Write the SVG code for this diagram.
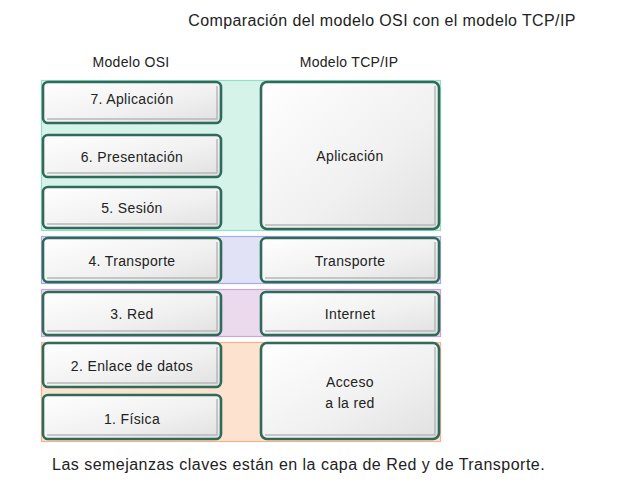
<svg xmlns="http://www.w3.org/2000/svg" width="621" height="497" viewBox="0 0 621 497">
<defs>
<linearGradient id="g" x1="0" y1="0" x2="1" y2="1">
<stop offset="0" stop-color="#ffffff"/>
<stop offset="0.6" stop-color="#f0f0f0"/>
<stop offset="1" stop-color="#e0e0e0"/>
</linearGradient>
<style>
text{font-family:"Liberation Sans",Arial,sans-serif;fill:#222;}
.t{font-size:14px;letter-spacing:0.35px;text-anchor:middle;}
.h{font-size:14px;letter-spacing:0.3px;text-anchor:middle;}
.box{fill:url(#g);stroke:#2f6a5a;stroke-width:2.6;}
.sh{fill:none;stroke:#b8b8b8;stroke-width:1.5;}
</style>
</defs>
<rect width="621" height="497" fill="#ffffff"/>
<text x="382" y="26" style="font-size:16px;letter-spacing:0.38px;text-anchor:middle">Comparación del modelo OSI con el modelo TCP/IP</text>
<text class="h" x="131" y="67">Modelo OSI</text>
<text class="h" x="349" y="67">Modelo TCP/IP</text>
<g id="bands">
<rect x="41.5" y="80.5" width="399" height="150" fill="#d6f3ea" stroke="#8fe0c6" stroke-width="1.2"/>
<rect x="41.5" y="236.5" width="399" height="47" fill="#e1e2f6" stroke="#a7aae6" stroke-width="1.2"/>
<rect x="41.5" y="289.5" width="399" height="47" fill="#ebdaee" stroke="#c9a9d4" stroke-width="1.2"/>
<rect x="41.5" y="342.5" width="399" height="99" fill="#fde2cf" stroke="#f3b48c" stroke-width="1.2"/>
</g>
<g id="osi7"><rect class="box" x="43" y="82" width="178" height="41" rx="5"/><path class="sh" d="M217 86 V119 H47"/><text class="t" x="132" y="103.5">7. Aplicación</text></g>
<g id="osi6"><rect class="box" x="43" y="135" width="178" height="42" rx="5"/><path class="sh" d="M217 139 V173 H47"/><text class="t" x="132" y="161.5">6. Presentación</text></g>
<g id="osi5"><rect class="box" x="43" y="187" width="178" height="41" rx="5"/><path class="sh" d="M217 191 V224 H47"/><text class="t" x="132" y="213">5. Sesión</text></g>
<g id="osi4"><rect class="box" x="43" y="238" width="178" height="44" rx="5"/><path class="sh" d="M217 242 V278 H47"/><text class="t" x="132" y="265.5">4. Transporte</text></g>
<g id="osi3"><rect class="box" x="43" y="292" width="178" height="43" rx="5"/><path class="sh" d="M217 296 V331 H47"/><text class="t" x="132" y="318.5">3. Red</text></g>
<g id="osi2"><rect class="box" x="43" y="343" width="178" height="44" rx="5"/><path class="sh" d="M217 347 V383 H47"/><text class="t" x="132" y="371">2. Enlace de datos</text></g>
<g id="osi1"><rect class="box" x="43" y="395" width="178" height="44" rx="5"/><path class="sh" d="M217 399 V435 H47"/><text class="t" x="132" y="423.5">1. Física</text></g>
<g id="tcp-app"><rect class="box" x="261" y="82" width="178" height="147" rx="6"/><path class="sh" d="M435 86 V225 H265"/><text class="t" x="350" y="160.5">Aplicación</text></g>
<g id="tcp-trans"><rect class="box" x="261" y="238" width="178" height="44" rx="5"/><path class="sh" d="M435 242 V278 H265"/><text class="t" x="350" y="265.5">Transporte</text></g>
<g id="tcp-inet"><rect class="box" x="261" y="292" width="178" height="43" rx="5"/><path class="sh" d="M435 296 V331 H265"/><text class="t" x="350" y="318.5">Internet</text></g>
<g id="tcp-acc"><rect class="box" x="261" y="343" width="178" height="96" rx="6"/><path class="sh" d="M435 347 V435 H265"/><text class="t" x="350" y="386.5">Acceso</text><text class="t" x="350" y="407.5">a la red</text></g>
<g id="connectors"></g>
<text x="52" y="470" style="font-size:16px;letter-spacing:0.48px">Las semejanzas claves están en la capa de Red y de Transporte.</text>
</svg>
